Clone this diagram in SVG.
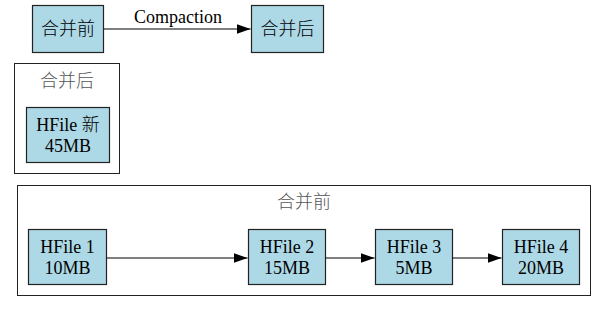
<svg xmlns="http://www.w3.org/2000/svg" width="607" height="312" viewBox="0 0 607 312">
<style>
.n{fill:#add8e6;stroke:#222;stroke-width:1.2}
.c{fill:none;stroke:#222;stroke-width:1}
.e{stroke:#000;stroke-width:1.2;fill:none}
text{font-size:18px;fill:#000;text-anchor:middle}
.cl{fill:#555;font-weight:300}
.zh{font-weight:300}
</style>
<defs>
<marker id="a" viewBox="0 0 10 10" refX="10" refY="5" markerWidth="14" markerHeight="14" markerUnits="userSpaceOnUse" orient="auto">
<path d="M0,1.5 L10,5 L0,8.5 Z" fill="#000"/>
</marker>
</defs>
<rect width="607" height="312" fill="#fff"/>
<g font-family="Liberation Serif, DejaVu Serif, Noto Sans CJK SC, serif">
<g id="cluster_after">
<rect class="c" x="14.5" y="63.5" width="105" height="110"/>
<text class="cl" x="67" y="87">合并后</text>
</g>
<g id="cluster_before">
<rect class="c" x="17.5" y="185.5" width="573" height="110"/>
<text class="cl" x="304" y="208">合并前</text>
</g>
<g id="top_before">
<rect class="n" x="32.5" y="5.5" width="71" height="47"/>
<text class="zh" x="68" y="35">合并前</text>
</g>
<g id="top_after">
<rect class="n" x="251.5" y="5.5" width="72" height="47"/>
<text class="zh" x="287.5" y="35">合并后</text>
</g>
<g id="hfile_new">
<rect class="n" x="26.5" y="107.5" width="83" height="55"/>
<text x="68" y="131">HFile <tspan font-weight="300">新</tspan></text>
<text x="68" y="152">45MB</text>
</g>
<g id="hfile1">
<rect class="n" x="28.5" y="229.5" width="78" height="55"/>
<text x="67.5" y="253">HFile 1</text>
<text x="67.5" y="274">10MB</text>
</g>
<g id="hfile2">
<rect class="n" x="248.5" y="229.5" width="77" height="55"/>
<text x="287" y="253">HFile 2</text>
<text x="287" y="274">15MB</text>
</g>
<g id="hfile3">
<rect class="n" x="375.5" y="229.5" width="77" height="55"/>
<text x="414" y="253">HFile 3</text>
<text x="414" y="274">5MB</text>
</g>
<g id="hfile4">
<rect class="n" x="502.5" y="229.5" width="77" height="55"/>
<text x="541" y="253">HFile 4</text>
<text x="541" y="274">20MB</text>
</g>
<g id="edges">
<line class="e" x1="103.5" y1="29" x2="250.5" y2="29" marker-end="url(#a)"/>
<text x="178" y="23">Compaction</text>
<line class="e" x1="106.5" y1="258" x2="247.5" y2="258" marker-end="url(#a)"/>
<line class="e" x1="325.5" y1="258" x2="374.5" y2="258" marker-end="url(#a)"/>
<line class="e" x1="452.5" y1="258" x2="501.5" y2="258" marker-end="url(#a)"/>
</g>
</g>
</svg>
